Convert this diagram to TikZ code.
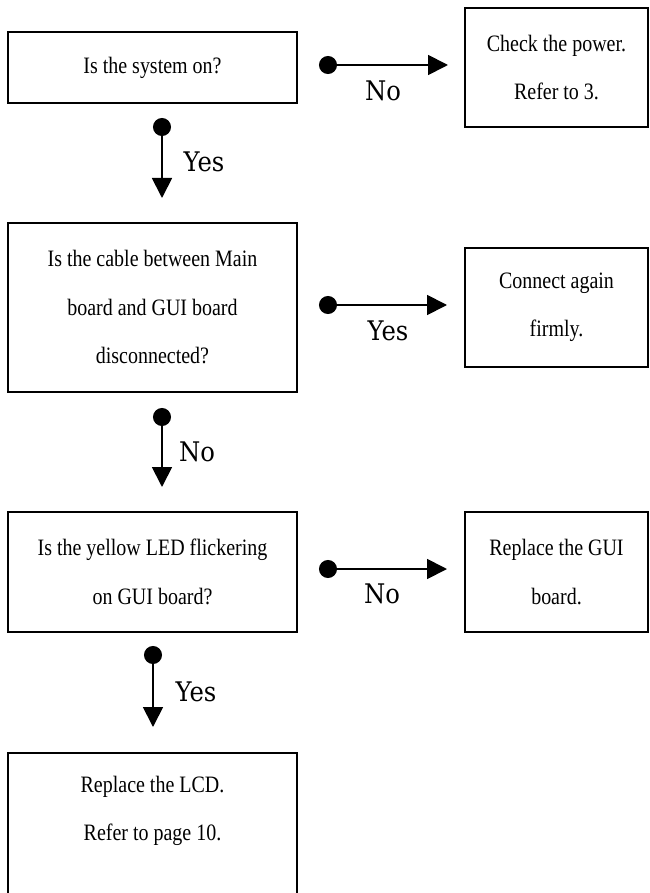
\documentclass[tikz,border=0pt]{standalone}
\usepackage{fontspec}
\setmainfont{Liberation Serif}[FakeStretch=0.85]
\newfontfamily\labelfont{DejaVu Serif}[FakeStretch=0.9]
\usetikzlibrary{arrows.meta}
\begin{document}
\begin{tikzpicture}[x=1pt,y=-1pt,
  boxbase/.style={draw, line width=1.7pt, inner sep=0pt, outer sep=0pt, align=center,
    font=\fontsize{23.5}{48.5}\selectfont},
  lbox/.style={boxbase, minimum width=289pt},
  rbox/.style={boxbase, minimum width=183pt},
  txt/.style={align=center, inner sep=0pt, font=\fontsize{23.5}{48.5}\selectfont},
  lbl/.style={inner sep=0pt, font=\labelfont\fontsize{27}{30}\selectfont},
  flow/.style={line width=1.8pt, {Circle[length=18pt]}-{Triangle[length=20pt,width=20pt]}}
]
\useasboundingbox (0,0) rectangle (649,893);
\clip (0,0) rectangle (649,893);

% boxes
\node[lbox, minimum height=71pt]  (b1) at (152.5,67.5) {Is the system on?};
\node[rbox, minimum height=119pt] (b2) at (556.5,67.5) {Check the power.\\Refer to 3.};
\node[lbox, minimum height=169pt] (b3) at (152.5,307.5) {Is the cable between Main\\board and GUI board\\disconnected?};
\node[rbox, minimum height=119pt] (b4) at (556.5,307.5) {Connect again\\firmly.};
\node[lbox, minimum height=120pt] (b5) at (152.5,572) {Is the yellow LED flickering\\on GUI board?};
\node[rbox, minimum height=120pt] (b6) at (556.5,572) {Replace the GUI\\board.};
\node[lbox, minimum height=160pt] (b7) at (152.5,833) {};
\node[txt] (t7) at (152.5,811) {Replace the LCD.\\Refer to page 10.};

% connector end points
\coordinate (h1s) at (319,65);  \coordinate (h1e) at (448,65);
\coordinate (v1s) at (162,118); \coordinate (v1e) at (162,198);
\coordinate (h2s) at (319,305); \coordinate (h2e) at (447,305);
\coordinate (v2s) at (162,408); \coordinate (v2e) at (162,487);
\coordinate (h3s) at (319,569); \coordinate (h3e) at (447,569);
\coordinate (v3s) at (153,646); \coordinate (v3e) at (153,727);

\draw[flow] (h1s) -- (h1e);
\draw[flow] (v1s) -- (v1e);
\draw[flow] (h2s) -- (h2e);
\draw[flow] (v2s) -- (v2e);
\draw[flow] (h3s) -- (h3e);
\draw[flow] (v3s) -- (v3e);

% labels
\node[lbl] (l1) at (383,91) {No};
\node[lbl] (l2) at (204,162) {Yes};
\node[lbl] (l3) at (388,331) {Yes};
\node[lbl] (l4) at (197,452) {No};
\node[lbl] (l5) at (382,594) {No};
\node[lbl] (l6) at (196,692) {Yes};
\end{tikzpicture}
\end{document}
